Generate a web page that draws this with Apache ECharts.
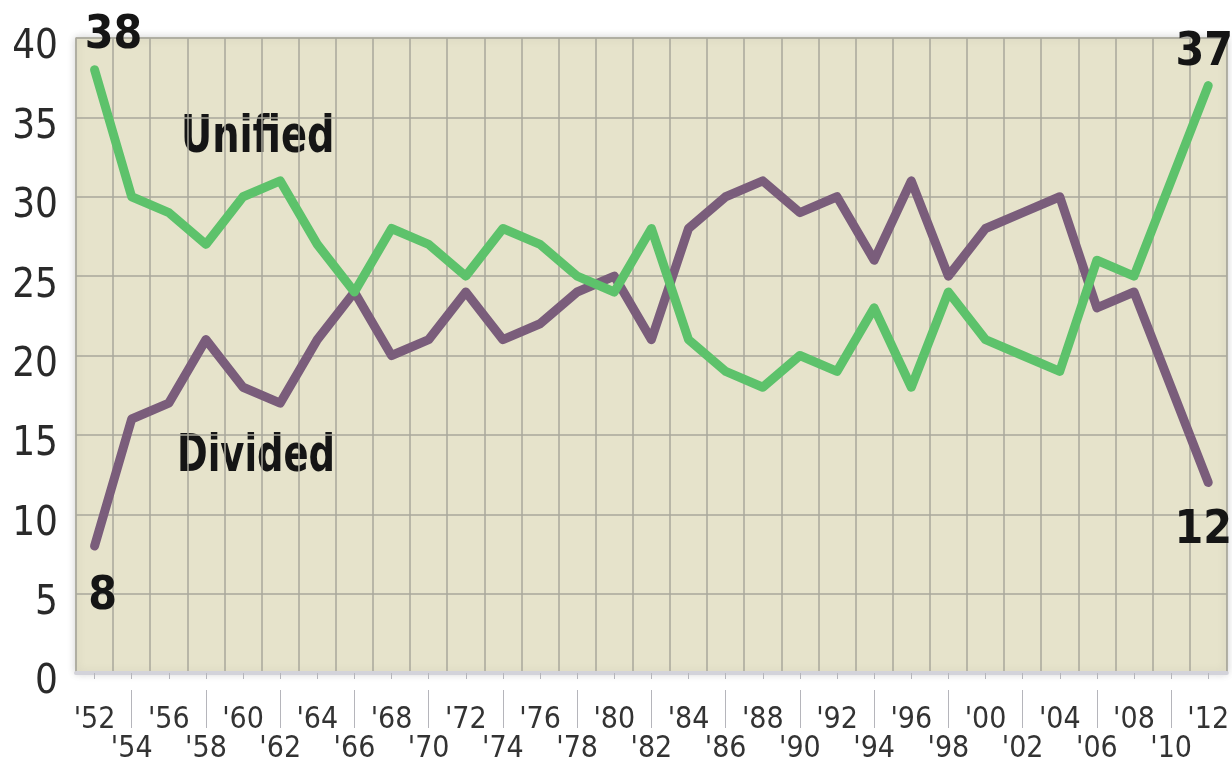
<!DOCTYPE html>
<html>
<head>
<meta charset="utf-8">
<script src="https://cdn.jsdelivr.net/npm/echarts@6/dist/echarts.min.js"></script>
<style>
  html, body { margin: 0; padding: 0; background: #ffffff; }
  #chart { width: 1232px; height: 765px; }
</style>
</head>
<body>
<div id="chart"></div>
<script>
// Election years, '52 through '12
const years = ["'52","'54","'56","'58","'60","'62","'64","'66","'68","'70","'72","'74","'76","'78","'80","'82",
               "'84","'86","'88","'90","'92","'94","'96","'98","'00","'02","'04","'06","'08","'10","'12"];

// Number of states under unified vs. divided government
const unified = [38,30,29,27,30,31,27,24,28,27,25,28,27,25,24,28,21,19,18,20,19,23,18,24,21,20,19,26,25,31,37];
const divided = [8,16,17,21,18,17,21,24,20,21,24,21,22,24,25,21,28,30,31,29,30,26,31,25,28,29,30,23,24,18,12];

const yTicks = [0, 5, 10, 15, 20, 25, 30, 35, 40];

const GREEN = '#5dc26b';
const PURPLE = '#7a5d7b';
const FONT = "'DejaVu Sans Condensed', 'Liberation Sans', sans-serif";

// End-point value labels
function endLabel(position, offset) {
  return {
    show: true,
    position: position,
    offset: offset,
    formatter: '{c}',
    fontFamily: FONT,
    fontWeight: 'bold',
    fontSize: 46,
    lineHeight: 46,
    color: '#151515'
  };
}

function withEndLabels(values, firstLbl, lastLbl) {
  return values.map((v, i) => {
    if (i === 0) return { value: v, label: firstLbl };
    if (i === values.length - 1) return { value: v, label: lastLbl };
    return v;
  });
}

const chart = echarts.init(document.getElementById('chart'), null, { renderer: 'canvas' });

chart.setOption({
  animation: false,
  backgroundColor: '#ffffff',
  grid: {
    left: 76, top: 38, width: 1158, height: 635,
    show: true,
    backgroundColor: '#e6e3cb',
    borderColor: '#bdbbb0',
    borderWidth: 1.5,
    shadowBlur: 8,
    shadowColor: 'rgba(0,0,0,0.18)'
  },
  xAxis: [
    {
      type: 'category',
      data: years,
      boundaryGap: true,
      position: 'bottom',
      offset: 17,
      axisLine: { show: true, lineStyle: { color: '#d3d3da', width: 4 } },
      axisTick: { show: true, alignWithLabel: true, length: 6, lineStyle: { color: '#b5b5bb', width: 1 } },
      axisLabel: {
        interval: 0,
        margin: 16,
        fontFamily: FONT,
        fontSize: 30,
        lineHeight: 29,
        color: '#333333',
        formatter: (value, index) => (index % 2 === 1 ? '\n' + value : value)
      },
      splitLine: { show: true, interval: 0, lineStyle: { color: '#a9a79b', width: 1.5 } }
    },
    {
      // longer ticks reaching down to the lower row of year labels
      type: 'category',
      data: years,
      boundaryGap: true,
      position: 'bottom',
      offset: 17,
      axisLine: { show: false },
      axisTick: {
        show: true, alignWithLabel: true, length: 38,
        interval: (index) => index % 2 === 1,
        lineStyle: { color: '#b5b5bb', width: 1 }
      },
      axisLabel: { show: false },
      splitLine: { show: false }
    }
  ],
  yAxis: {
    type: 'value',
    min: yTicks[0],
    max: yTicks[yTicks.length - 1],
    interval: 5,
    axisLine: { show: false },
    axisTick: { show: false },
    axisLabel: {
      margin: 18,
      fontFamily: FONT,
      fontSize: 40,
      lineHeight: 20,
      color: '#2a2a2a',
      // an empty first line drops each number slightly below its gridline
      formatter: (v) => (yTicks.indexOf(v) >= 0 ? '\n' + String(v) : '')
    },
    splitLine: { show: true, lineStyle: { color: '#a9a79b', width: 1.5 } }
  },
  series: [
    {
      name: 'Unified',
      type: 'line',
      data: withEndLabels(unified, endLabel('top', [19, -5]), endLabel('top', [-4, -4])),
      symbol: 'circle',
      symbolSize: 1,
      showSymbol: true,
      itemStyle: { color: 'rgba(0,0,0,0)' },
      lineStyle: { color: GREEN, width: 9, join: 'round', cap: 'round' },
      z: 3
    },
    {
      name: 'Divided',
      type: 'line',
      data: withEndLabels(divided, endLabel('bottom', [8, 23]), endLabel('bottom', [-5, 20])),
      symbol: 'circle',
      symbolSize: 1,
      showSymbol: true,
      itemStyle: { color: 'rgba(0,0,0,0)' },
      lineStyle: { color: PURPLE, width: 9, join: 'round', cap: 'round' },
      z: 2
    }
  ],
  graphic: [
    {
      type: 'text', left: 181, top: 112, scaleX: 0.82,
      style: { text: 'Unified', font: "bold 52px " + FONT, fill: '#151515' }
    },
    {
      type: 'text', left: 177, top: 431, scaleX: 0.79,
      style: { text: 'Divided', font: "bold 52px " + FONT, fill: '#151515' }
    }
  ]
});
</script>
</body>
</html>
